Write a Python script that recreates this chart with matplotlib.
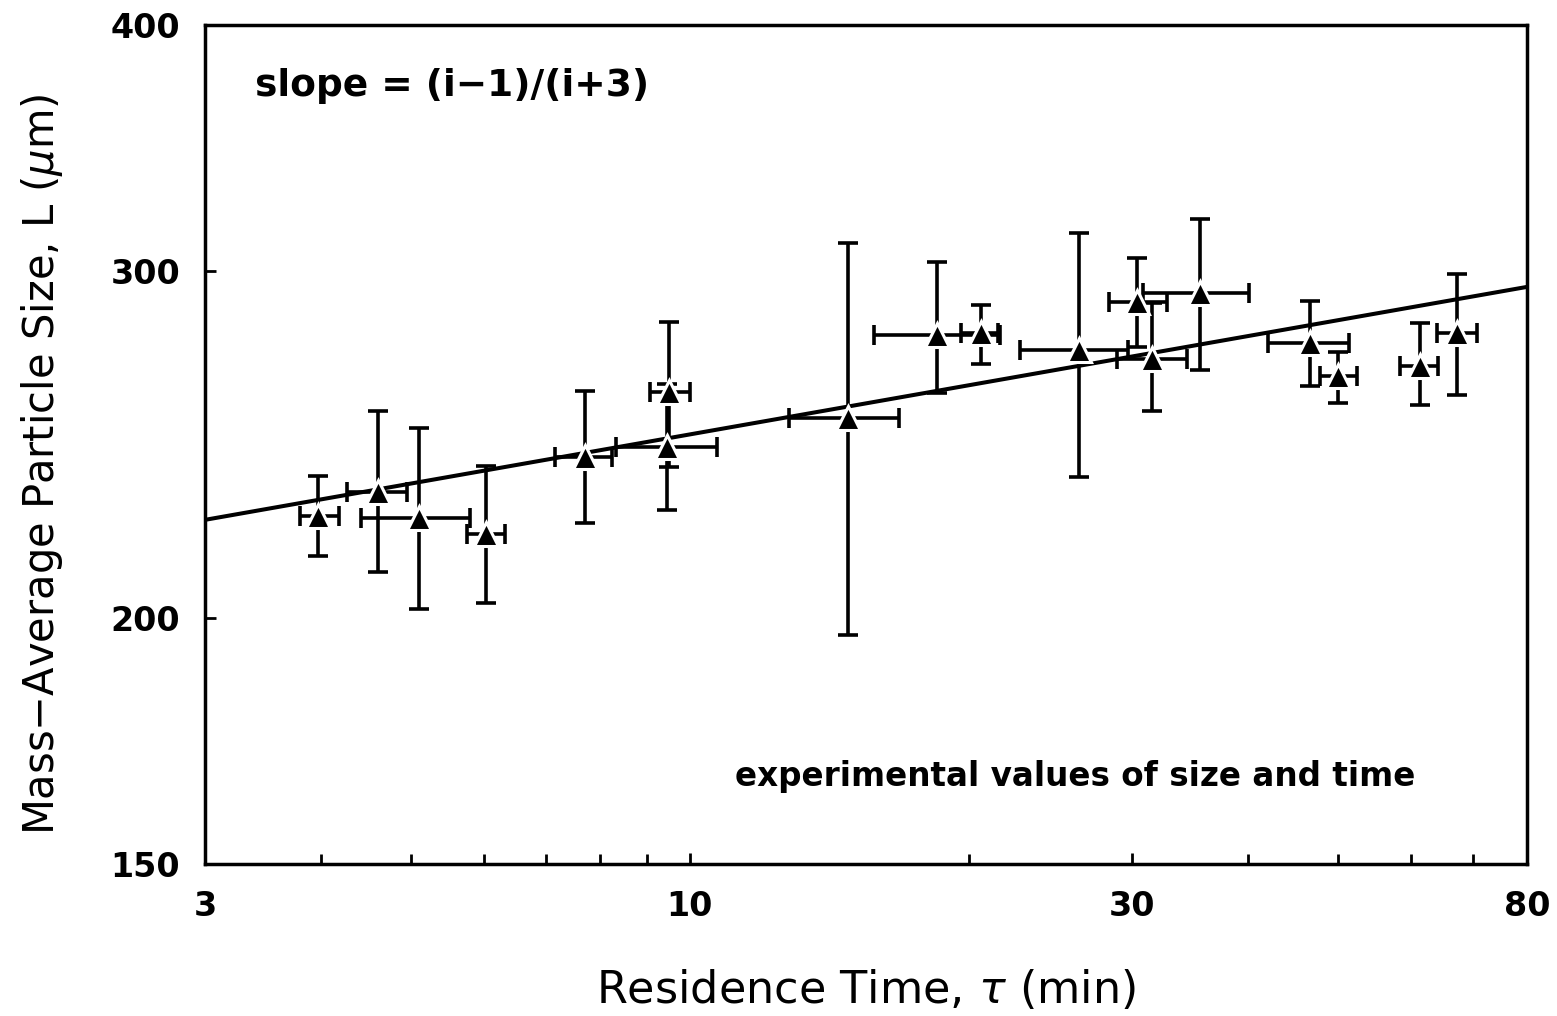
import numpy as np
import matplotlib
matplotlib.use("Agg")
import matplotlib.pyplot as plt
from matplotlib.ticker import FixedLocator, NullFormatter, NullLocator

# residence time (min) with horizontal error limits
tau = [3.97, 4.61, 5.11, 6.03, 7.71, 9.49, 9.44, 14.8, 18.5, 20.6,
       26.3, 30.4, 31.5, 35.5, 46.7, 50.0, 61.4, 67.3]
tau_lo = [3.80, 4.27, 4.42, 5.75, 7.16, 9.06, 8.33, 12.8, 15.8, 19.6,
          22.7, 28.3, 28.9, 30.8, 42.1, 47.9, 58.4, 64.0]
tau_hi = [4.18, 4.95, 5.80, 6.32, 8.24, 10.0, 10.7, 16.8, 21.6, 21.5,
          29.7, 32.7, 34.4, 40.1, 51.4, 52.5, 64.2, 70.6]

# mass-average particle size (um) with vertical error limits
L = [225.3, 231.8, 224.7, 220.5, 241.5, 260.6, 244.2, 252.6, 278.5, 279.0,
     273.6, 289.5, 270.6, 292.5, 275.7, 265.3, 268.5, 279.2]
L_lo = [215.1, 211.1, 202.2, 203.6, 223.5, 238.7, 226.8, 196.1, 260.1, 269.2,
        235.7, 274.6, 254.8, 267.3, 262.2, 257.0, 256.6, 259.5]
L_hi = [236.0, 254.6, 249.6, 239.0, 260.9, 282.7, 262.9, 309.9, 303.3, 288.3,
        313.5, 304.5, 289.0, 318.8, 289.8, 273.0, 282.4, 298.9]

# fitted power-law line, end points
fit_tau = [3, 80]
fit_L = [224.3, 294.5]

x_ticks = [3, 10, 30, 80]
x_minor = [4, 5, 6, 7, 8, 9, 20, 40, 50, 60, 70]
y_ticks = [150, 200, 300, 400]

tau = np.array(tau); L = np.array(L)
xerr = [tau - np.array(tau_lo), np.array(tau_hi) - tau]
yerr = [L - np.array(L_lo), np.array(L_hi) - L]

fig = plt.figure(figsize=(15.57, 10.16), dpi=100)
ax = fig.add_axes([0.1317, 0.1496, 0.8490, 0.8258])
ax.set_xscale('log')
ax.set_yscale('log')
ax.set_xlim(3, 80)
ax.set_ylim(150, 400)

ax.plot(fit_tau, fit_L, color='black', lw=2.9, zorder=2, solid_capstyle='butt')
ax.errorbar(tau, L, xerr=xerr, yerr=yerr, fmt='none', ecolor='black',
            elinewidth=2.6, capsize=7.5, capthick=2.6, zorder=3)
ax.plot(tau, L, linestyle='none', marker='^', markersize=17, color='black',
        markeredgecolor='white', markeredgewidth=2.2, zorder=4)

ax.xaxis.set_major_locator(FixedLocator(x_ticks))
ax.set_xticklabels([str(t) for t in x_ticks])
ax.xaxis.set_minor_locator(FixedLocator(x_minor))
ax.xaxis.set_minor_formatter(NullFormatter())
ax.yaxis.set_major_locator(FixedLocator(y_ticks))
ax.set_yticklabels([str(t) for t in y_ticks])
ax.yaxis.set_minor_locator(NullLocator())

ax.tick_params(which='both', direction='in', top=False, right=False,
               width=2.0, labelsize=24)
ax.tick_params(which='major', length=8)
ax.tick_params(which='minor', length=7)
ax.tick_params(axis='x', pad=19)
ax.tick_params(axis='y', pad=18)
for lab in ax.get_xticklabels() + ax.get_yticklabels():
    lab.set_fontweight('bold')
for s in ax.spines.values():
    s.set_linewidth(2.5)

ax.set_xlabel(r'Residence Time, $\tau$ (min)', fontsize=32, labelpad=32)
ax.set_ylabel(r'Mass$-$Average Particle Size, L ($\mu$m)', fontsize=30)
ax.yaxis.set_label_coords(-0.106, 0.476)

ax.text(0.038, 0.927, 'slope = (i\u22121)/(i+3)', transform=ax.transAxes,
        fontsize=27, fontweight='bold', va='center', ha='left')
ax.text(0.658, 0.104, 'experimental values of size and time', transform=ax.transAxes,
        fontsize=23.5, fontweight='bold', va='center', ha='center')

fig.savefig('out.png', dpi=100)
